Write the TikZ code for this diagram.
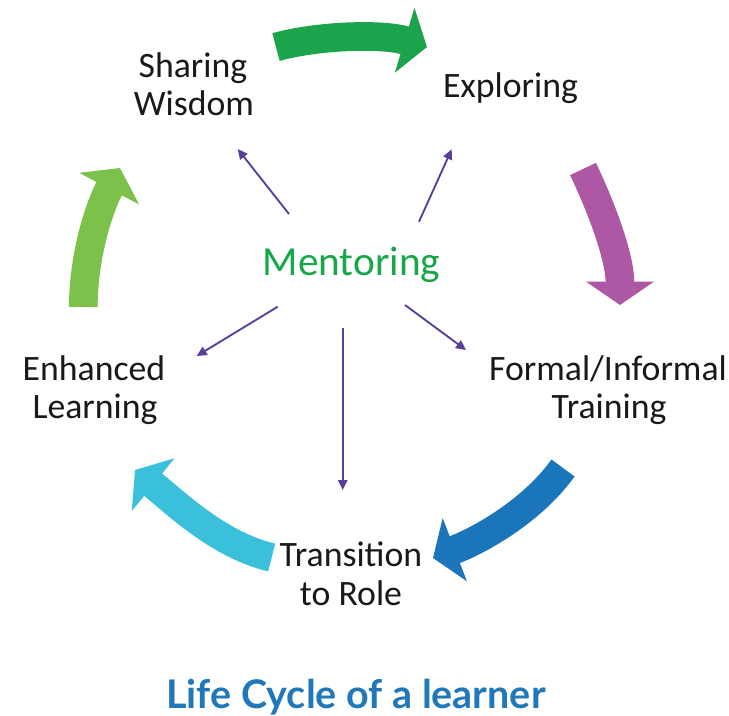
\documentclass[tikz,border=0pt]{standalone}
\usepackage{fontspec}
\setmainfont{Carlito}
\newfontfamily\titlefont{Lato}
\usetikzlibrary{arrows.meta}
\definecolor{cgreen}{RGB}{28,164,76}
\definecolor{cmagenta}{RGB}{172,88,164}
\definecolor{cblue}{RGB}{27,117,186}
\definecolor{ccyan}{RGB}{58,192,218}
\definecolor{clgreen}{RGB}{124,194,74}
\definecolor{mpurple}{RGB}{90,62,155}
\definecolor{mgreen}{RGB}{22,168,72}
\definecolor{ctitle}{RGB}{32,119,185}
\begin{document}
\begin{tikzpicture}[x=0.75pt,y=-0.75pt,
  bigarrow/.style={line width=21.5pt,-{Triangle[length=17.5pt,width=50pt]}},
  mentarrow/.style={draw=mpurple,line width=1.4pt,-{Triangle[length=7.5pt,width=7pt]}},
  lbl/.style={font=\fontsize{26.8}{32}\selectfont,anchor=base,inner sep=0pt,text=black!90},
  ttl/.style={font=\titlefont\bfseries\fontsize{29.6}{34}\selectfont,anchor=base,inner sep=0pt,text=ctitle}]
\useasboundingbox (0,0) rectangle (729,715);
\fill[white] (0,0) rectangle (729,715);
% big cycle arrows
\draw[bigarrow,draw=cgreen] (276,47) .. controls (318,35.5) and (382,33.4) .. (427,47);
\draw[bigarrow,draw=cmagenta] (583,169) .. controls (603,211) and (620,258) .. (620,305);
\draw[bigarrow,draw=cblue] (563,468) .. controls (533,510) and (481.6,539.4) .. (433,558);
\draw[bigarrow,draw=ccyan] (271.7,557.5) .. controls (219,545) and (177,504) .. (135,470);
\draw[bigarrow,draw=clgreen] (83.3,307) .. controls (83.3,259) and (97.6,210.5) .. (120,168);
% labels
\node[lbl] (sw1) at (193,77) {Sharing};
\node[lbl] (sw2) at (194,115) {Wisdom};
\node[lbl] (ex) at (510.5,97) {Exploring};
\node[lbl] (ft1) at (608,380) {Formal/Informal};
\node[lbl] (ft2) at (609,418) {Training};
\node[lbl] (el1) at (94,380) {Enhanced};
\node[lbl] (el2) at (95,418) {Learning};
\node[lbl] (tr1) at (351,566) {Transition};
\node[lbl] (tr2) at (351,605) {to Role};
\node[font=\fontsize{31}{36}\selectfont,anchor=base,inner sep=0pt,text=mgreen] (ment) at (351.5,275) {Mentoring};
\node[ttl] (title) at (356,708) {Life Cycle of a learner};
% mentoring arrows
\coordinate (ulS) at (289,214); \coordinate (ulE) at (237.7,149);
\coordinate (urS) at (419,221.7); \coordinate (urE) at (451.7,149.3);
\coordinate (llS) at (277.7,306.7); \coordinate (llE) at (196.7,356);
\coordinate (lrS) at (405,305); \coordinate (lrE) at (466,350);
\coordinate (dS) at (342.7,328); \coordinate (dE) at (342.7,490);
\draw[mentarrow] (ulS) -- (ulE);
\draw[mentarrow] (urS) -- (urE);
\draw[mentarrow] (llS) -- (llE);
\draw[mentarrow] (lrS) -- (lrE);
\draw[mentarrow] (dS) -- (dE);
\end{tikzpicture}
\end{document}
